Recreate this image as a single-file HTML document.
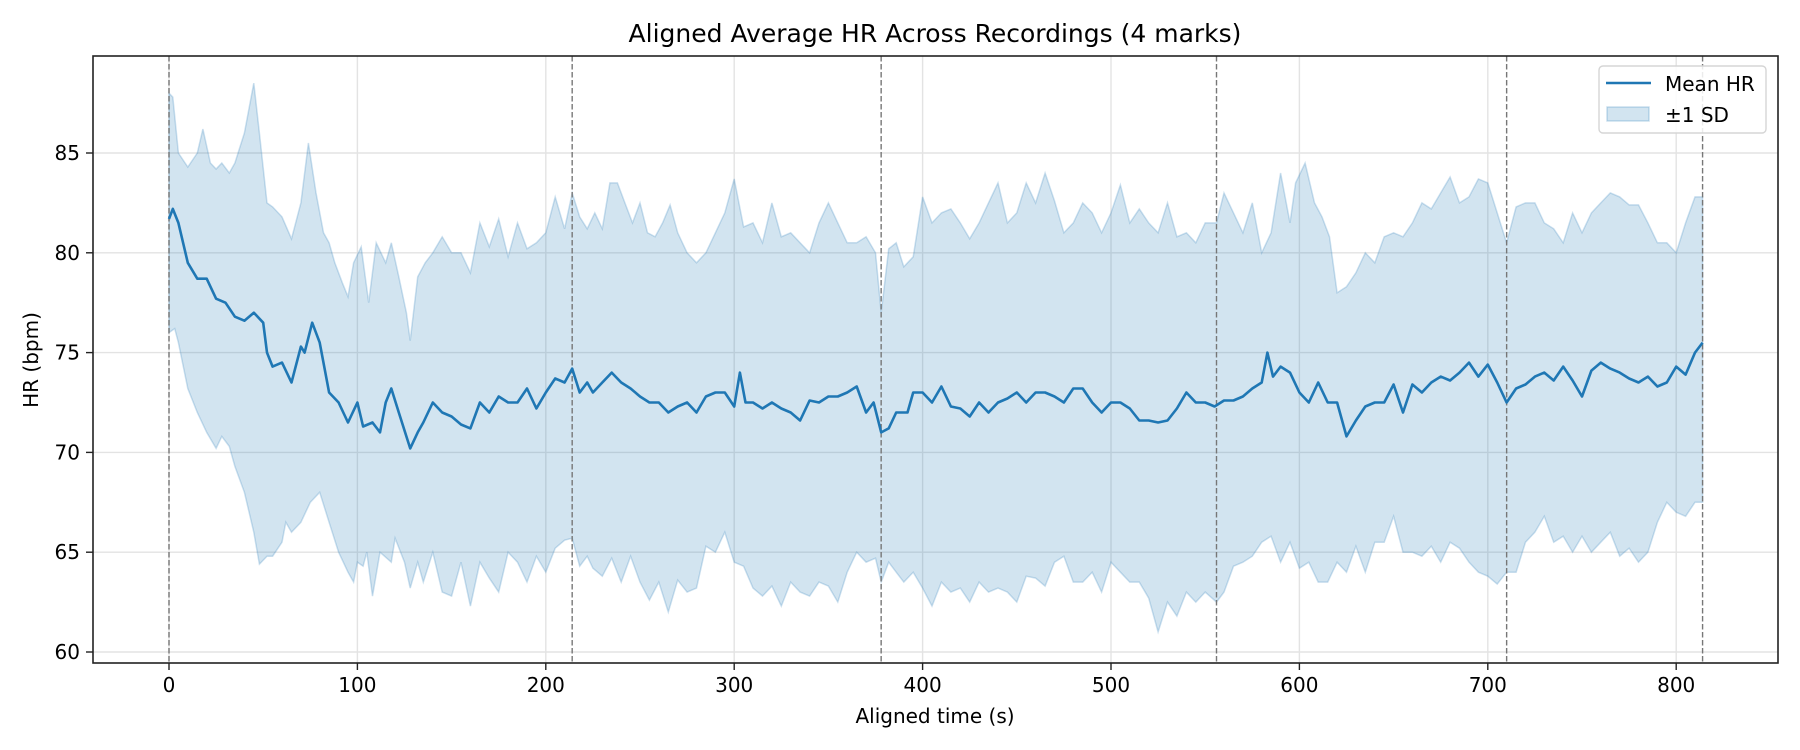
<!DOCTYPE html>
<html><head><meta charset="utf-8"><style>
html,body{margin:0;padding:0;background:#fff;}
svg{display:block;font-family:"DejaVu Sans","Liberation Sans",sans-serif;}
</style></head><body>
<svg id="s" width="1800" height="750" viewBox="0 0 1800 750" xmlns="http://www.w3.org/2000/svg">
<rect width="1800" height="750" fill="#fff"/>
<g id="grid" stroke="#e3e3e3" stroke-width="1.4"></g>
<path id="band" fill="#1f77b4" fill-opacity="0.2" stroke="#1f77b4" stroke-opacity="0.22" stroke-width="1.5"/>
<g id="vl" stroke="#777" stroke-width="1.4" stroke-dasharray="5.5,2.5"></g>
<path id="mean" fill="none" stroke="#1f77b4" stroke-width="2.6" stroke-linejoin="round"/>
<rect x="93" y="56" width="1685" height="607" fill="none" stroke="#222" stroke-width="1.6"/>
<g id="ticks" stroke="#222" stroke-width="1.4"></g>
<g id="labels" font-size="20" fill="#000"></g>
<text x="935" y="42" font-size="25" text-anchor="middle">Aligned Average HR Across Recordings (4 marks)</text>
<text x="935" y="723" font-size="20" text-anchor="middle">Aligned time (s)</text>
<text transform="translate(38,360) rotate(-90)" font-size="20" text-anchor="middle">HR (bpm)</text>
<rect x="1599" y="66" width="167" height="67" rx="4" fill="#fff" fill-opacity="0.85" stroke="#d5d5d5" stroke-width="1.4"/>
<line x1="1606" y1="83" x2="1651" y2="83" stroke="#1f77b4" stroke-width="2.6"/>
<rect x="1607" y="107" width="42" height="14" fill="#1f77b4" fill-opacity="0.2" stroke="#1f77b4" stroke-opacity="0.25" stroke-width="1.4"/>
<text x="1665" y="91" font-size="20">Mean HR</text>
<text x="1665" y="122" font-size="20">±1 SD</text>
</svg>
<script>
const X=t=>169+1.884*t, Y=v=>652-(v-60)*19.96;
const mean=[0,81.7,2,82.2,5,81.5,10,79.5,15,78.7,20,78.7,25,77.7,30,77.5,35,76.8,40,76.6,45,77,50,76.5,52,75,55,74.3,60,74.5,65,73.5,70,75.3,72,75,76,76.5,80,75.5,85,73,90,72.5,95,71.5,100,72.5,103,71.3,108,71.5,112,71,115,72.5,118,73.2,122,72,128,70.2,132,71,135,71.5,140,72.5,145,72,150,71.8,155,71.4,160,71.2,165,72.5,170,72,175,72.8,180,72.5,185,72.5,190,73.2,195,72.2,200,73,205,73.7,210,73.5,214,74.2,218,73,222,73.5,225,73,230,73.5,235,74,240,73.5,245,73.2,250,72.8,255,72.5,260,72.5,265,72,270,72.3,275,72.5,280,72,285,72.8,290,73,295,73,300,72.3,303,74,306,72.5,310,72.5,315,72.2,320,72.5,325,72.2,330,72,335,71.6,340,72.6,345,72.5,350,72.8,355,72.8,360,73,365,73.3,370,72,374,72.5,378,71,382,71.2,386,72,392,72,395,73,400,73,405,72.5,410,73.3,415,72.3,420,72.2,425,71.8,430,72.5,435,72,440,72.5,445,72.7,450,73,455,72.5,460,73,465,73,470,72.8,475,72.5,480,73.2,485,73.2,490,72.5,495,72,500,72.5,505,72.5,510,72.2,515,71.6,520,71.6,525,71.5,530,71.6,535,72.2,540,73,545,72.5,550,72.5,555,72.3,560,72.6,565,72.6,570,72.8,575,73.2,580,73.5,583,75,586,73.8,590,74.3,595,74,600,73,605,72.5,610,73.5,615,72.5,620,72.5,625,70.8,630,71.6,635,72.3,640,72.5,645,72.5,650,73.4,655,72,660,73.4,665,73,670,73.5,675,73.8,680,73.6,685,74,690,74.5,695,73.8,700,74.4,705,73.5,710,72.5,715,73.2,720,73.4,725,73.8,730,74,735,73.6,740,74.3,745,73.6,750,72.8,755,74.1,760,74.5,765,74.2,770,74,775,73.7,780,73.5,785,73.8,790,73.3,795,73.5,800,74.3,805,73.9,810,75,814,75.5];
const up=[0,88,2,87.8,5,85,10,84.3,15,85,18,86.2,22,84.5,25,84.2,28,84.5,32,84,35,84.5,40,86,45,88.5,48,86,52,82.5,55,82.3,60,81.8,65,80.7,70,82.5,74,85.5,78,83,82,81,85,80.5,88,79.5,92,78.5,95,77.8,98,79.5,102,80.3,106,77.5,110,80.5,115,79.5,118,80.5,122,78.8,126,77,128,75.6,132,78.8,136,79.5,140,80,145,80.8,150,80,155,80,160,79,165,81.5,170,80.3,175,81.7,180,79.8,185,81.5,190,80.2,195,80.5,200,81,205,82.8,210,81.2,214,83,218,81.8,222,81.2,226,82,230,81.2,234,83.5,238,83.5,242,82.5,246,81.5,250,82.5,254,81,258,80.8,262,81.5,266,82.4,270,81,275,80,280,79.5,285,80,290,81,295,82,300,83.7,305,81.3,310,81.5,315,80.5,320,82.5,325,80.8,330,81,335,80.5,340,80,345,81.5,350,82.5,355,81.5,360,80.5,365,80.5,370,80.8,375,80,378,77,382,80.2,386,80.5,390,79.3,395,79.8,400,82.8,405,81.5,410,82,415,82.2,420,81.5,425,80.7,430,81.5,435,82.5,440,83.5,445,81.5,450,82,455,83.5,460,82.5,465,84,470,82.6,475,81,480,81.5,485,82.5,490,82,495,81,500,82,505,83.4,510,81.5,515,82.2,520,81.5,525,81,530,82.5,535,80.8,540,81,545,80.5,550,81.5,556,81.5,560,83,565,82,570,81,575,82.5,580,80,585,81,590,84,595,81.5,598,83.5,603,84.5,608,82.5,612,81.8,616,80.8,620,78,625,78.3,630,79,635,80,640,79.5,645,80.8,650,81,655,80.8,660,81.5,665,82.5,670,82.2,675,83,680,83.8,685,82.5,690,82.8,695,83.7,700,83.5,705,82,710,80.5,715,82.3,720,82.5,725,82.5,730,81.5,735,81.2,740,80.5,745,82,750,81,755,82,760,82.5,765,83,770,82.8,775,82.4,780,82.4,785,81.5,790,80.5,795,80.5,800,80,805,81.5,810,82.8,814,82.8];
const lo=[0,76,3,76.2,5,75.5,10,73.2,15,72,20,71,25,70.2,28,70.8,32,70.3,35,69.3,40,68,45,66,48,64.4,52,64.8,55,64.8,60,65.5,62,66.5,65,66,70,66.5,75,67.5,80,68,85,66.5,90,65,95,64,98,63.5,100,64.5,103,64.3,105,65,108,62.8,112,65,118,64.5,120,65.7,125,64.5,128,63.2,132,64.5,135,63.5,140,65,145,63,150,62.8,155,64.5,160,62.3,165,64.5,170,63.7,175,63,180,65,185,64.5,190,63.5,195,64.8,200,64,205,65.2,210,65.6,214,65.7,218,64.3,222,64.8,225,64.2,230,63.8,235,64.7,240,63.5,245,64.8,250,63.5,255,62.6,260,63.5,265,62,270,63.6,275,63,280,63.2,285,65.3,290,65,295,66,300,64.5,305,64.3,310,63.2,315,62.8,320,63.3,325,62.3,330,63.5,335,63,340,62.8,345,63.5,350,63.3,355,62.5,360,64,365,65,370,64.5,375,64.7,378,63.5,382,64.5,386,64,390,63.5,395,64,400,63.2,405,62.3,410,63.5,415,63,420,63.2,425,62.5,430,63.5,435,63,440,63.2,445,63,450,62.5,455,63.8,460,63.7,465,63.3,470,64.5,475,64.8,480,63.5,485,63.5,490,64,495,63,500,64.5,505,64,510,63.5,515,63.5,520,62.7,525,61,530,62.5,535,61.8,540,63,545,62.5,550,63,556,62.5,560,63,565,64.3,570,64.5,575,64.8,580,65.5,585,65.8,590,64.5,595,65.5,600,64.2,605,64.5,610,63.5,615,63.5,620,64.5,625,64,630,65.3,635,64,640,65.5,645,65.5,650,66.8,655,65,660,65,665,64.8,670,65.3,675,64.5,680,65.5,685,65.2,690,64.5,695,64,700,63.8,705,63.4,710,64,715,64,720,65.5,725,66,730,66.8,735,65.5,740,65.8,745,65,750,65.8,755,65,760,65.5,765,66,770,64.8,775,65.2,780,64.5,785,65,790,66.5,795,67.5,800,67,805,66.8,810,67.5,814,67.5];
function pts(a){const r=[];for(let i=0;i<a.length;i+=2)r.push([X(a[i]),Y(a[i+1])]);return r;}
function d(p){return p.map((q,i)=>(i?'L':'M')+q[0].toFixed(1)+','+q[1].toFixed(1)).join('');}
const pu=pts(up),pl=pts(lo).reverse();
document.getElementById('band').setAttribute('d',d(pu)+pl.map(q=>'L'+q[0].toFixed(1)+','+q[1].toFixed(1)).join('')+'Z');
document.getElementById('mean').setAttribute('d',d(pts(mean)));
const NS='http://www.w3.org/2000/svg';
function el(p,n,a,txt){const e=document.createElementNS(NS,n);for(const k in a)e.setAttribute(k,a[k]);if(txt!==undefined)e.textContent=txt;document.getElementById(p).appendChild(e);}
for(let t=0;t<=800;t+=100){el('grid','line',{x1:X(t),x2:X(t),y1:56,y2:663});el('ticks','line',{x1:X(t),x2:X(t),y1:663,y2:670});el('labels','text',{x:X(t),y:692,'text-anchor':'middle'},t);}
for(let v=60;v<=85;v+=5){el('grid','line',{x1:93,x2:1778,y1:Y(v),y2:Y(v)});el('ticks','line',{x1:86,x2:93,y1:Y(v),y2:Y(v)});el('labels','text',{x:80,y:Y(v)+7,'text-anchor':'end'},v);}
[0,214,378,556,710,814].forEach(t=>el('vl','line',{x1:X(t),x2:X(t),y1:56,y2:663}));
</script>
</body></html>
